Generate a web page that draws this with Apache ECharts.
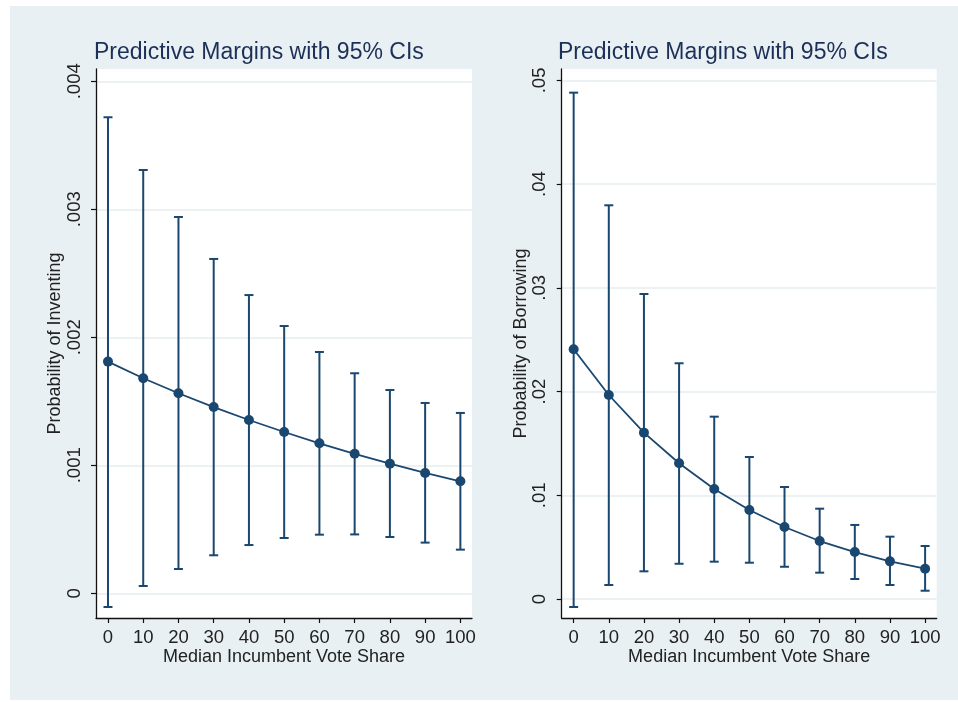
<!DOCTYPE html>
<html>
<head>
<meta charset="utf-8">
<script src="https://cdn.jsdelivr.net/npm/echarts@6/dist/echarts.min.js"></script>
<style>html,body{margin:0;padding:0;background:#fff}#c{width:958px;height:702px}</style>
</head>
<body>
<div id="c"></div>
<script>
// ---- data ----
const xVals = [0, 10, 20, 30, 40, 50, 60, 70, 80, 90, 100];
const invMargin = [0.00181, 0.00168, 0.001563, 0.001455, 0.001354, 0.00126, 0.001172, 0.00109, 0.001013, 0.00094, 0.000875];
const invUpper  = [0.003719, 0.003307, 0.00294, 0.002612, 0.00233, 0.002088, 0.001885, 0.001719, 0.001588, 0.001487, 0.001409];
const invLower  = [-0.000107, 0.000057, 0.00019, 0.000297, 0.000377, 0.000432, 0.000458, 0.00046, 0.00044, 0.000396, 0.000341];
const borMargin = [0.02408, 0.01967, 0.01604, 0.01309, 0.01061, 0.00858, 0.00694, 0.00559, 0.00453, 0.00363, 0.00292];
const borUpper  = [0.04882, 0.03796, 0.02941, 0.02273, 0.01758, 0.01369, 0.0108, 0.00871, 0.00714, 0.00601, 0.00511];
const borLower  = [-0.00077, 0.00135, 0.00267, 0.0034, 0.0036, 0.0035, 0.00311, 0.00254, 0.00193, 0.00135, 0.0008];
const xTicks = [0, 10, 20, 30, 40, 50, 60, 70, 80, 90, 100];
const invTicks = [0, 0.001, 0.002, 0.003, 0.004];
const invTickLabels = ['0', '.001', '.002', '.003', '.004'];
const borTicks = [0, 0.01, 0.02, 0.03, 0.04, 0.05];
const borTickLabels = ['0', '.01', '.02', '.03', '.04', '.05'];
const titleText = 'Predictive Margins with 95% CIs';
const xName = 'Median Incumbent Vote Share';
const invName = 'Probability of Inventing';
const borName = 'Probability of Borrowing';

// ---- styles ----
const FONT = '"Liberation Sans", Arial, Helvetica, sans-serif';
const NAVY = '#1a476f';
const AXIS = '#111';
const GRID = '#e6eef1';

const chart = echarts.init(document.getElementById('c'), null, {renderer: 'canvas'});

function xAxisDef(gi) {
  return {
    type: 'value', gridIndex: gi, min: -3.4, max: 103.3,
    name: xName, nameLocation: 'middle', nameGap: 30, nameMoveOverlap: false,
    nameTextStyle: {fontFamily: FONT, fontSize: 18, color: '#222'},
    axisLine: {show: true, onZero: false, lineStyle: {color: AXIS, width: 1.3}},
    axisTick: {show: true, length: 5, customValues: xTicks, lineStyle: {color: AXIS, width: 1.2}},
    axisLabel: {customValues: xTicks, fontFamily: FONT, fontSize: 18.5, color: '#222', margin: 10},
    splitLine: {show: false}
  };
}
function yAxisDef(gi, min, max, ticks, labels, name) {
  return {
    type: 'value', gridIndex: gi, min: min, max: max,
    name: name, nameLocation: 'middle', nameGap: 32, nameRotate: 90, nameMoveOverlap: false,
    nameTextStyle: {fontFamily: FONT, fontSize: 18, color: '#222'},
    axisLine: {show: true, onZero: false, lineStyle: {color: AXIS, width: 1.3}},
    axisTick: {show: true, length: 5, customValues: ticks, lineStyle: {color: AXIS, width: 1.2}},
    axisLabel: {
      customValues: ticks, rotate: 90, fontFamily: FONT, fontSize: 18.5, color: '#222', margin: 12,
      formatter: function (v) {
        for (let i = 0; i < ticks.length; i++) if (Math.abs(ticks[i] - v) < 1e-12) return labels[i];
        return '';
      }
    },
    splitLine: {show: true, lineStyle: {color: GRID, width: 1.5}}
  };
}
function errSeries(gi, lower, upper) {
  const data = xVals.map((x, i) => [x, lower[i], upper[i]]);
  return {
    type: 'custom', xAxisIndex: gi, yAxisIndex: gi, data: data,
    encode: {x: 0, y: [1, 2]}, clip: false, z: 3,
    renderItem: function (params, api) {
      const x = api.value(0);
      const lo = api.coord([x, api.value(1)]);
      const hi = api.coord([x, api.value(2)]);
      const hw = 4.5;
      const st = {stroke: NAVY, lineWidth: 2};
      return {
        type: 'group',
        children: [
          {type: 'line', shape: {x1: lo[0], y1: lo[1], x2: hi[0], y2: hi[1]}, style: st},
          {type: 'line', shape: {x1: hi[0] - hw, y1: hi[1], x2: hi[0] + hw, y2: hi[1]}, style: st},
          {type: 'line', shape: {x1: lo[0] - hw, y1: lo[1], x2: lo[0] + hw, y2: lo[1]}, style: st}
        ]
      };
    }
  };
}
function lineSeries(gi, vals) {
  return {
    type: 'line', xAxisIndex: gi, yAxisIndex: gi,
    data: xVals.map((x, i) => [x, vals[i]]),
    symbol: 'circle', symbolSize: 10, showSymbol: true, z: 4,
    lineStyle: {color: NAVY, width: 1.8},
    itemStyle: {color: NAVY},
    animation: false
  };
}

chart.setOption({
  backgroundColor: '#ffffff',
  animation: false,
  graphic: [{
    type: 'rect', z: -10, silent: true,
    shape: {x: 10, y: 6, width: 948, height: 694},
    style: {fill: '#e9f0f3'}
  }],
  title: [
    {text: titleText, left: 89, top: 36, textStyle: {fontFamily: FONT, fontSize: 23, fontWeight: 'normal', color: '#1c2f57'}},
    {text: titleText, left: 553, top: 36, textStyle: {fontFamily: FONT, fontSize: 23, fontWeight: 'normal', color: '#1c2f57'}}
  ],
  grid: [
    {left: 96, right: 486, top: 69, bottom: 84, show: true, backgroundColor: '#fff', borderWidth: 0},
    {left: 561.7, right: 21.3, top: 69, bottom: 84, show: true, backgroundColor: '#fff', borderWidth: 0}
  ],
  xAxis: [xAxisDef(0), xAxisDef(1)],
  yAxis: [
    yAxisDef(0, -0.000193, 0.004096, invTicks, invTickLabels, invName),
    yAxisDef(1, -0.00183, 0.0511, borTicks, borTickLabels, borName)
  ],
  series: [
    errSeries(0, invLower, invUpper),
    lineSeries(0, invMargin),
    errSeries(1, borLower, borUpper),
    lineSeries(1, borMargin)
  ]
});
</script>
</body>
</html>
